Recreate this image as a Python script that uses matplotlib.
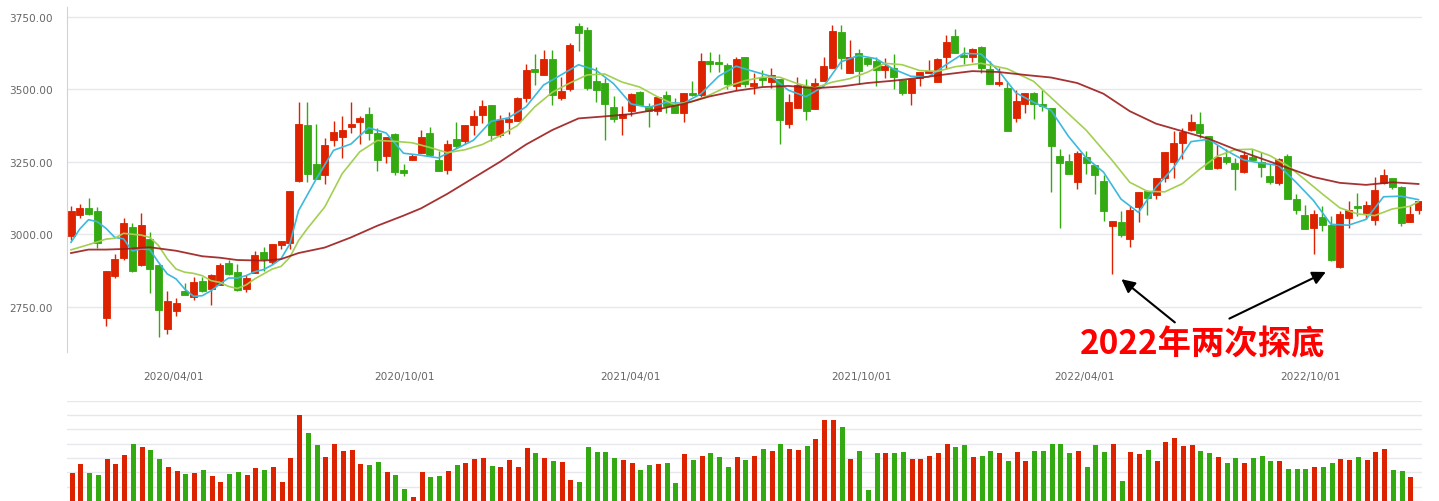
import numpy as np
import matplotlib
matplotlib.use("Agg")
import matplotlib.pyplot as plt

# Weekly candles (index 0 = first week of 2020)
opens = [2996, 3068, 3091, 3081, 2713, 2858, 2920, 3026, 2896, 2985,
         2895, 2675, 2737, 2805, 2784, 2840, 2812, 2827, 2902, 2871,
         2813, 2868, 2940, 2906, 2965, 2970, 3186, 3378, 3243, 3205,
         3326, 3336, 3371, 3388, 3416, 3350, 3271, 3347, 3222, 3257,
         3282, 3350, 3257, 3222, 3329, 3322, 3378, 3412, 3447, 3343,
         3388, 3391, 3471, 3571, 3551, 3605, 3472, 3500, 3720, 3705,
         3529, 3522, 3440, 3403, 3427, 3491, 3442, 3424, 3481, 3451,
         3420, 3488, 3481, 3598, 3595, 3584, 3513, 3612, 3513, 3543,
         3526, 3536, 3382, 3437, 3512, 3433, 3529, 3574, 3698, 3558,
         3626, 3609, 3598, 3568, 3574, 3533, 3488, 3541, 3558, 3524,
         3613, 3685, 3619, 3610, 3647, 3571, 3520, 3505, 3403, 3448,
         3488, 3450, 3436, 3271, 3253, 3182, 3267, 3240, 3184, 3030,
         3043, 2986, 3096, 3150, 3137, 3193, 3251, 3314, 3360, 3381,
         3340, 3229, 3267, 3247, 3217, 3267, 3250, 3202, 3179, 3271,
         3122, 3067, 3024, 3060, 3033, 2889, 3058, 3098, 3075, 3051,
         3179, 3195, 3164, 3044, 3086]
highs = [3097, 3105, 3126, 3095, 2874, 2932, 3057, 3040, 3074, 3009,
         2898, 2805, 2781, 2833, 2854, 2854, 2864, 2902, 2912, 2898,
         2860, 2943, 2957, 2967, 2979, 3150, 3458, 3458, 3381, 3333,
         3391, 3409, 3457, 3409, 3440, 3367, 3336, 3350, 3243, 3278,
         3360, 3371, 3288, 3326, 3388, 3378, 3429, 3464, 3447, 3412,
         3422, 3474, 3588, 3622, 3636, 3636, 3543, 3660, 3729, 3716,
         3578, 3540, 3478, 3443, 3488, 3495, 3453, 3478, 3495, 3471,
         3488, 3529, 3626, 3629, 3622, 3591, 3612, 3612, 3557, 3567,
         3574, 3536, 3484, 3543, 3536, 3540, 3612, 3722, 3722, 3671,
         3640, 3612, 3612, 3609, 3622, 3533, 3536, 3560, 3602, 3609,
         3688, 3709, 3647, 3643, 3650, 3598, 3574, 3526, 3498, 3488,
         3491, 3498, 3436, 3295, 3278, 3286, 3288, 3240, 3205, 3047,
         3081, 3098, 3146, 3153, 3195, 3285, 3357, 3366, 3415, 3422,
         3340, 3309, 3295, 3264, 3288, 3295, 3284, 3243, 3264, 3278,
         3140, 3102, 3084, 3098, 3064, 3081, 3115, 3143, 3115, 3198,
         3226, 3195, 3167, 3098, 3115]
lows = [2982, 3058, 3068, 2955, 2686, 2850, 2911, 2870, 2893, 2799,
        2648, 2658, 2720, 2790, 2775, 2803, 2758, 2827, 2862, 2806,
        2803, 2868, 2875, 2898, 2951, 2951, 3180, 3182, 3191, 3175,
        3305, 3262, 3350, 3312, 3326, 3219, 3247, 3205, 3202, 3257,
        3282, 3274, 3219, 3209, 3298, 3312, 3343, 3385, 3322, 3336,
        3347, 3391, 3457, 3516, 3551, 3447, 3465, 3493, 3634, 3498,
        3458, 3327, 3389, 3344, 3410, 3447, 3372, 3413, 3417, 3417,
        3386, 3478, 3474, 3561, 3561, 3503, 3499, 3510, 3484, 3513,
        3505, 3312, 3368, 3437, 3396, 3433, 3529, 3574, 3571, 3558,
        3517, 3582, 3513, 3540, 3502, 3479, 3447, 3513, 3555, 3524,
        3571, 3627, 3588, 3595, 3558, 3517, 3513, 3358, 3389, 3417,
        3399, 3427, 3148, 3024, 3210, 3158, 3210, 3141, 3048, 2865,
        2993, 2958, 3044, 3068, 3124, 3182, 3196, 3260, 3357, 3333,
        3224, 3226, 3243, 3155, 3213, 3253, 3198, 3175, 3172, 3124,
        3072, 3020, 2934, 3013, 2910, 2886, 3024, 3065, 3055, 3034,
        3175, 3158, 3030, 3044, 3071]
closes = [3081, 3091, 3071, 2972, 2874, 2916, 3040, 2875, 3033, 2882,
          2741, 2771, 2764, 2790, 2836, 2806, 2860, 2895, 2865, 2810,
          2850, 2929, 2917, 2967, 2979, 3150, 3381, 3209, 3191, 3309,
          3353, 3360, 3381, 3402, 3350, 3257, 3336, 3216, 3212, 3271,
          3336, 3274, 3219, 3312, 3305, 3378, 3409, 3443, 3343, 3395,
          3398, 3471, 3567, 3561, 3605, 3479, 3495, 3653, 3693, 3505,
          3499, 3448, 3399, 3415, 3484, 3447, 3424, 3474, 3444, 3417,
          3488, 3481, 3598, 3589, 3586, 3520, 3605, 3517, 3522, 3534,
          3550, 3393, 3457, 3516, 3424, 3522, 3581, 3702, 3609, 3612,
          3565, 3589, 3568, 3581, 3543, 3488, 3536, 3560, 3564, 3605,
          3664, 3627, 3613, 3640, 3575, 3517, 3525, 3358, 3461, 3488,
          3448, 3444, 3306, 3248, 3210, 3282, 3248, 3206, 3082, 3047,
          2999, 3084, 3146, 3127, 3195, 3285, 3316, 3352, 3388, 3350,
          3224, 3267, 3250, 3224, 3274, 3257, 3233, 3182, 3260, 3124,
          3086, 3020, 3071, 3034, 2913, 3071, 3085, 3093, 3102, 3155,
          3205, 3165, 3041, 3071, 3115]
volumes = [28, 37, 28, 26, 42, 37, 46, 57, 54, 51,
           42, 34, 30, 27, 28, 31, 25, 19, 27, 29,
           26, 33, 31, 34, 19, 43, 86, 68, 56, 44,
           57, 50, 51, 37, 36, 39, 29, 26, 12, 4,
           29, 24, 25, 30, 36, 38, 42, 43, 35, 34,
           41, 34, 53, 48, 43, 40, 39, 21, 19, 54,
           49, 49, 43, 41, 38, 31, 36, 37, 38, 18,
           47, 41, 45, 48, 44, 34, 44, 41, 45, 52,
           50, 57, 52, 51, 55, 62, 81, 81, 74, 42,
           50, 11, 48, 48, 48, 49, 42, 42, 45, 48,
           57, 54, 56, 44, 45, 50, 48, 40, 49, 40,
           50, 50, 57, 57, 48, 50, 34, 56, 49, 57,
           20, 49, 47, 51, 40, 59, 63, 55, 56, 50,
           48, 44, 38, 43, 38, 43, 45, 40, 40, 32,
           32, 32, 34, 34, 38, 42, 41, 44, 41, 49,
           52, 31, 30, 24]

# moving average lines, read at sampled weeks
ma5_idx = list(range(0, 27)) + list(range(28, 155, 2))
ma5 = [2973, 3019, 3051, 3044, 3021, 2990, 2985, 2943, 2950, 2948,
       2904, 2864, 2847, 2812, 2787, 2789, 2806, 2829, 2850, 2850,
       2858, 2872, 2879, 2895, 2916, 2967, 3082,
       3190, 3290, 3312, 3368, 3350, 3280, 3273, 3264, 3295, 3325,
       3390, 3402, 3440, 3515, 3550, 3585, 3566, 3520, 3450, 3438,
       3455, 3452, 3485, 3545, 3580, 3562, 3545, 3497, 3475, 3510,
       3595, 3617, 3606, 3570, 3545, 3543, 3585, 3624, 3622, 3565,
       3488, 3456, 3428, 3338, 3265, 3215, 3122, 3076, 3163, 3230,
       3320, 3328, 3290, 3257, 3246, 3238, 3180, 3117, 3035, 3032,
       3052, 3130, 3132, 3120]
ma10_idx = [0, 2, 4, 5, 6, 8, 9, 10, 11, 12, 13, 14, 15, 16, 17, 18, 19, 20,
            21, 22, 23, 24, 25, 26, 27] + list(range(29, 102, 2)) + \
           [104, 107, 110, 113, 116, 119, 121, 123, 125, 127, 129, 131, 133,
            135, 137, 139, 141, 143, 145, 147, 149, 151, 153, 154]
ma10 = [2947, 2965, 2984, 2987, 3004, 2998, 2990, 2962, 2916, 2881,
        2870, 2866, 2858, 2841, 2835, 2821, 2814, 2826, 2847, 2864,
        2881, 2890, 2921, 2979, 3020,
        3095, 3210, 3285, 3324, 3321, 3316, 3300, 3282, 3292, 3310,
        3340, 3375, 3440, 3490, 3522, 3550, 3553, 3525, 3508, 3475,
        3448, 3458, 3481, 3510, 3530, 3542, 3542, 3520, 3505, 3525,
        3537, 3559, 3590, 3585, 3565, 3562, 3578,
        3590, 3571, 3528, 3444, 3360, 3255, 3180, 3149, 3147, 3175,
        3225, 3270, 3292, 3294, 3272, 3238, 3190, 3140, 3092, 3071,
        3065, 3088, 3097, 3113]
ma30_idx = [0, 2, 4, 6, 9, 12, 15, 17, 19, 22, 24, 26, 29, 32, 35, 38, 40,
            43, 46, 49, 52, 55, 58, 61, 64, 67, 70, 73, 76, 79, 82, 85, 88,
            91, 94, 97, 100, 103, 106, 109, 112, 115, 118, 121, 124, 127,
            130, 133, 136, 139, 142, 145, 148, 151, 154]
ma30 = [2936, 2948, 2948, 2950, 2956, 2944, 2925, 2920, 2912, 2910,
        2915, 2936, 2955, 2990, 3030, 3065, 3090, 3140, 3195, 3250,
        3310, 3360, 3400, 3407, 3415, 3431, 3450, 3476, 3495, 3508,
        3512, 3504, 3510, 3522, 3530, 3540, 3552, 3563, 3560, 3550,
        3541, 3522, 3485, 3425, 3382, 3356, 3330, 3294, 3262, 3230,
        3198, 3178, 3171, 3180, 3174]

yticks = [2750, 3000, 3250, 3500, 3750]
xtick_pos = [11.66, 38.06, 63.9, 90.3, 115.8, 141.7]
xtick_labels = ["2020/04/01", "2020/10/01", "2021/04/01",
                "2021/10/01", "2022/04/01", "2022/10/01"]

UP, DOWN = "#dd2200", "#33aa11"
W, H = 1439, 502

fig = plt.figure(figsize=(W / 100, H / 100), dpi=100)
ax = fig.add_axes([67 / W, (H - 353) / H, 1355 / W, 345 / H])
axv = fig.add_axes([67 / W, 0, 1355 / W, 100.3 / H])

x = np.arange(len(opens))
o, h, l, c = map(np.array, (opens, highs, lows, closes))
cols = np.where(c >= o, UP, DOWN)

ax.vlines(x, l, h, colors=cols, linewidth=1.0, zorder=3)
ax.bar(x, c - o, bottom=o, width=0.8, color=cols, edgecolor=cols,
       linewidth=0.6, zorder=4)

ax.plot(ma5_idx, ma5, color="#3cb9dc", lw=1.2, zorder=5)
ax.plot(ma10_idx, ma10, color="#a3cf52", lw=1.2, zorder=5)
ax.plot(ma30_idx, ma30, color="#9c1c1c", lw=1.3, zorder=5, alpha=0.9)

ax.set_xlim(-0.46, 154.4)
ax.set_ylim(2595, 3784)
ax.set_yticks(yticks)
ax.set_yticklabels([f"{v:.2f}" for v in yticks])
ax.set_xticks(xtick_pos)
ax.set_xticklabels(xtick_labels)
ax.tick_params(axis="both", length=0, labelsize=7.6, colors="#666666")
ax.tick_params(axis="y", pad=10)
ax.tick_params(axis="x", pad=14)
ax.grid(axis="y", color="#e6e8ee", lw=1)
ax.set_axisbelow(True)
for s in ("top", "right", "bottom"):
    ax.spines[s].set_visible(False)
ax.spines["left"].set_color("#ccd3e0")

# annotation
ax.annotate("", xy=(119.8, 2852), xytext=(126.4, 2691),
            arrowprops=dict(arrowstyle="-|>", color="black", lw=1.5,
                            mutation_scale=20), annotation_clip=False)
ax.annotate("", xy=(143.7, 2875), xytext=(132.1, 2706),
            arrowprops=dict(arrowstyle="-|>", color="black", lw=1.5,
                            mutation_scale=20), annotation_clip=False)
ax.text(129.3, 2622, "2022年两次探底", color="#ff0000", fontsize=24,
        fontweight="bold", ha="center", va="center", clip_on=False,
        family=["Noto Sans CJK SC", "DejaVu Sans"])

# volume
xv = np.arange(len(volumes))
axv.bar(xv + 0.12, volumes, width=0.57, color=cols[:len(volumes)], zorder=3)
axv.set_xlim(-0.46, 154.4)
axv.set_ylim(0, 100)
axv.set_yticks(np.linspace(0, 100, 8))
axv.set_xticks([])
axv.tick_params(axis="y", length=0, labelleft=False)
axv.grid(axis="y", color="#e6e8ee", lw=1)
axv.set_axisbelow(True)
for s in axv.spines.values():
    s.set_visible(False)

fig.savefig("out.png", dpi=100)
